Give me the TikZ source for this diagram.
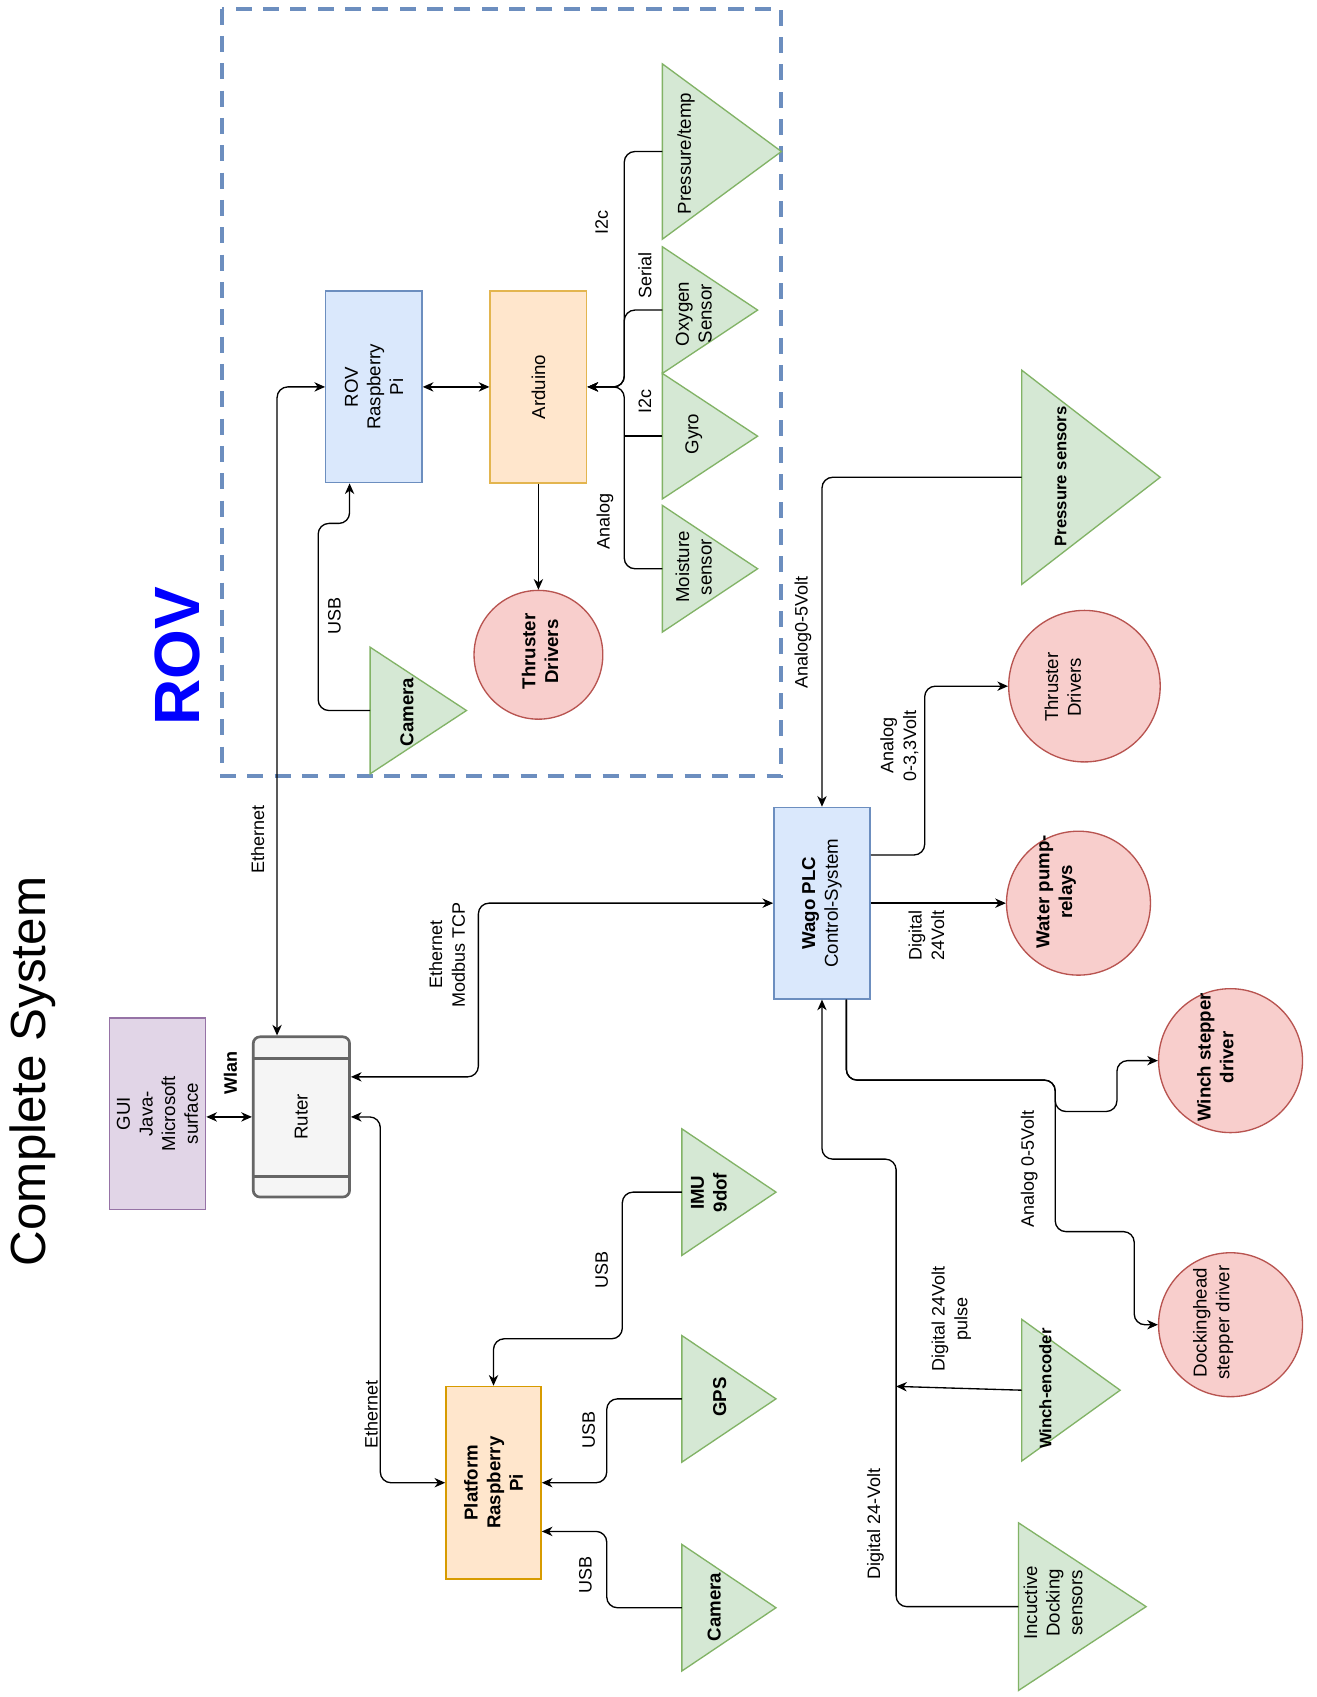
\documentclass[tikz,border=0pt]{standalone}
\usepackage{fontspec}
\setmainfont{Liberation Sans}
\usetikzlibrary{arrows.meta,calc}
\newdimen\pxu \pxu=0.8117pt
\definecolor{gfill}{HTML}{D5E8D4}\definecolor{gline}{HTML}{82B366}
\definecolor{rfill}{HTML}{F8CECC}\definecolor{rline}{HTML}{B85450}
\definecolor{bfill}{HTML}{DAE8FC}\definecolor{bline}{HTML}{6C8EBF}
\definecolor{ofill}{HTML}{FFE6CC}\definecolor{oline}{HTML}{D79B00}
\definecolor{yline}{HTML}{E3B54F}
\definecolor{pfill}{HTML}{E1D5E7}\definecolor{pline}{HTML}{9673A6}
\definecolor{sfill}{HTML}{F5F5F5}\definecolor{sline}{HTML}{666666}
\definecolor{rovblue}{HTML}{0000FF}
\newcommand{\mytri}[5]{%
  \draw[tri] (#2,#3) -- (#5,{(#3+#4)/2}) -- (#2,#4) -- cycle;
  \coordinate (#1) at (#2,{(#3+#4)/2});}
\begin{document}
\begin{tikzpicture}[x=0.8117pt,y=-0.8117pt,
  >={Stealth[length=8pt,width=7pt,inset=2.5pt]},
  box/.style={draw, rectangle, line width=1pt, inner sep=0pt},
  circ/.style={draw=rline, fill=rfill, circle, line width=1pt, inner sep=0pt},
  tri/.style={draw=gline, fill=gfill, line width=1pt, line join=miter},
  txt/.style={rotate=90, align=center, inner sep=0pt, font=\fontsize{14}{17}\selectfont},
  btxt/.style={rotate=90, align=center, inner sep=0pt, font=\fontsize{14}{17}\selectfont\bfseries},
  stxt/.style={rotate=90, align=center, inner sep=0pt, font=\fontsize{12.5}{15}\selectfont\bfseries},
  lbl/.style={rotate=90, align=center, inner sep=0pt, font=\fontsize{13.5}{17}\selectfont},
  edge/.style={draw=black, line width=1pt, rounded corners=8pt}
  ]
\fill[white] (0,0) rectangle (1216,1568);
\useasboundingbox (0,0) rectangle (1216,1568);

% titles
\node[rotate=90, inner sep=0pt, font=\fontsize{37}{40}\selectfont] (title) at (30,990) {Complete System};
\node[rotate=90, inner sep=0pt, text=rovblue, font=\fontsize{48}{50}\selectfont\bfseries] (rovlbl) at (164,606) {ROV};

% ROV dashed frame
\draw[bline, line width=3pt, dash pattern=on 12pt off 8.5pt] (205,8) rectangle (722,717);

% boxes
\node[box, draw=pline, fill=pfill, minimum width={89*\pxu}, minimum height={177*\pxu}] (gui) at (145.5,1029) {};
\node[txt] (gui-t) at (gui) {GUI\\Java-\\Microsoft\\surface};
\node[box, draw=sline, fill=sfill, line width=2pt, rounded corners=5pt, minimum width={89*\pxu}, minimum height={148*\pxu}] (ruter) at (278.5,1032) {};
\draw[sline, line width=2pt] ($(ruter.north west)+(0,21)$) -- ($(ruter.north east)+(0,21)$);
\draw[sline, line width=2pt] ($(ruter.south west)+(0,-20)$) -- ($(ruter.south east)+(0,-20)$);
\node[txt] (ruter-t) at (ruter) {Ruter};
\node[box, draw=bline, fill=bfill, minimum width={89*\pxu}, minimum height={177*\pxu}] (rovpi) at (345.5,357.5) {};
\node[txt] (rovpi-t) at (rovpi) {ROV\\Raspberry\\Pi};
\node[box, draw=yline, fill=ofill, line width=1.3pt, minimum width={89*\pxu}, minimum height={177*\pxu}] (ard) at (497.5,357.5) {};
\node[txt] (ard-t) at (ard) {Arduino};
\node[box, draw=bline, fill=bfill, minimum width={89*\pxu}, minimum height={177*\pxu}] (wago) at (759.5,834.5) {};
\node[txt] (wago-t) at (wago) {\textbf{Wago PLC}\\Control-System};
\node[box, draw=oline, fill=ofill, minimum width={88*\pxu}, minimum height={178*\pxu}] (ppi) at (456,1370) {};
\node[btxt] (ppi-t) at (ppi) {Platform\\Raspberry\\Pi};

% circles
\node[circ, minimum size={119*\pxu}] (thr1) at (497.5,605) {};
\node[btxt] (thr1-t) at (499,602) {Thruster\\Drivers};
\node[circ, minimum size={140*\pxu}] (thr2) at (1002,634) {};
\node[txt] (thr2-t) at (982,635) {Thruster\\Drivers};
\node[circ, minimum size={133*\pxu}] (pump) at (996.5,834.5) {};
\node[btxt] (pump-t) at (976,824) {Water pump-\\relays};
\node[circ, minimum size={133*\pxu}] (winch) at (1137,980) {};
\node[btxt] (winch-t) at (1123,977) {Winch stepper\\driver};
\node[circ, minimum size={133*\pxu}] (dock) at (1137,1224) {};
\node[txt] (dock-t) at (1121,1222) {Dockinghead\\stepper driver};

% triangles
\mytri{ptemp}{612}{59}{221}{722}
\node[txt] (ptemp-t) at (634,142) {Pressure/temp};
\mytri{oxy}{612}{228}{345}{700}
\node[txt] (oxy-t) at (641,290) {Oxygen\\Sensor};
\mytri{gyro}{612}{345}{461}{700}
\node[txt] (gyro-t) at (641,401) {Gyro};
\mytri{moist}{612}{467}{584}{700}
\node[txt] (moist-t) at (641,524) {Moisture\\sensor};
\mytri{camr}{342}{598}{715}{431}
\node[btxt] (camr-t) at (376,658) {Camera};
\mytri{psens}{944}{342}{540}{1072}
\node[stxt] (psens-t) at (980,440) {Pressure sensors};
\mytri{wenc}{944}{1219}{1350}{1035}
\node[stxt] (wenc-t) at (966,1283) {Winch-encoder};
\mytri{indock}{941}{1407}{1562}{1059}
\node[txt] (indock-t) at (973,1481) {Incuctive\\Docking\\sensors};
\mytri{imu}{630}{1043}{1160}{717}
\node[btxt] (imu-t) at (655,1102) {IMU\\9dof};
\mytri{gps}{630}{1234}{1351}{717}
\node[btxt] (gps-t) at (665,1291) {GPS};
\mytri{camp}{630}{1427}{1544}{717}
\node[btxt] (camp-t) at (660,1485) {Camera};

% connectors ROV
\draw[edge,<->] ($(ruter.north)+(-22.5,0)$) |- (rovpi.west);
\draw[edge,<->] (rovpi.east) -- (ard.west);
\draw[edge,->] (ard.south) -- (thr1.north);
\draw[edge,->] (camr) -| ($(rovpi.south)+(-51.5,37)$) -| ($(rovpi.south)+(-22.5,0)$);
\coordinate (bus) at ($(ard.east)+(34,0)$);
\draw[edge,->] (ptemp) -| (bus) -- (ard.east);
\draw[edge,->] (oxy) -| (bus) -- (ard.east);
\draw[edge,->] (moist) -| (bus) -- (ard.east);
\draw[edge] (gyro) -- (gyro -| bus);

% connectors platform
\draw[edge,->] (psens) -| (wago.north);
\draw[edge,->] ($(wago.east)+(0,-44.5)$) -| ($(thr2.west)+(-77,0)$) -- (thr2.west);
\draw[edge,->] (wago.east) -- (pump.west);
\draw[edge,->] ($(wago.south)+(22.5,0)$) |- (975,998) |- (1032,1027) |- (winch.west);
\draw[edge,->] ($(wago.south)+(22.5,0)$) |- (975,998) |- (1048,1138) |- (dock.west);
\coordinate (wencin) at (828,1281);
\draw[edge,->] (wenc) -- (wencin);
\draw[edge,->] (indock) -| (828,1071) -| (wago.south);
\draw[edge,<->] (wago.west) -| (442,995) -- ($(ruter.east)+(0,-37)$);
\draw[edge,<->] (gui.east |- ruter.west) -- (ruter.west);
\draw[edge,<->] (ruter.east) -| ($(ppi.west)+(-60,0)$) -- (ppi.west);
\draw[edge,->] (imu) -| (575,1237) -| (ppi.north);
\draw[edge,->] (gps) -| ($(ppi.east)+(60,0)$) -- (ppi.east);
\draw[edge,->] (camp) -| ($(ppi.east)+(60,45)$) -- ($(ppi.east)+(0,45)$);

% edge labels
\node[lbl] (l1) at (238,776) {Ethernet};
\node[lbl] (l2) at (309,569) {USB};
\node[lbl] (l3) at (556,206) {I2c};
\node[lbl] (l4) at (596,255) {Serial};
\node[lbl] (l5) at (596,371) {I2c};
\node[lbl] (l6) at (559,482) {Analog};
\node[lbl] (l7) at (742,584) {Analog0-5Volt};
\node[lbl] (l8) at (831,689) {Analog\\0-3,3Volt};
\node[lbl] (l9) at (856,864) {Digital\\24Volt};
\node[lbl] (l10) at (951,1080) {Analog 0-5Volt};
\node[lbl] (l11) at (879,1219) {Digital 24Volt\\pulse};
\node[lbl] (l12) at (809,1408) {Digital 24-Volt};
\node[lbl] (l13) at (413,882) {Ethernet\\Modbus TCP};
\node[lbl, font=\fontsize{13.5}{17}\selectfont\bfseries] (l14) at (213,991) {Wlan};
\node[lbl] (l15) at (343,1307) {Ethernet};
\node[lbl] (l16) at (556,1173) {USB};
\node[lbl] (l17) at (544,1321) {USB};
\node[lbl] (l18) at (541,1455) {USB};
\end{tikzpicture}
\end{document}
